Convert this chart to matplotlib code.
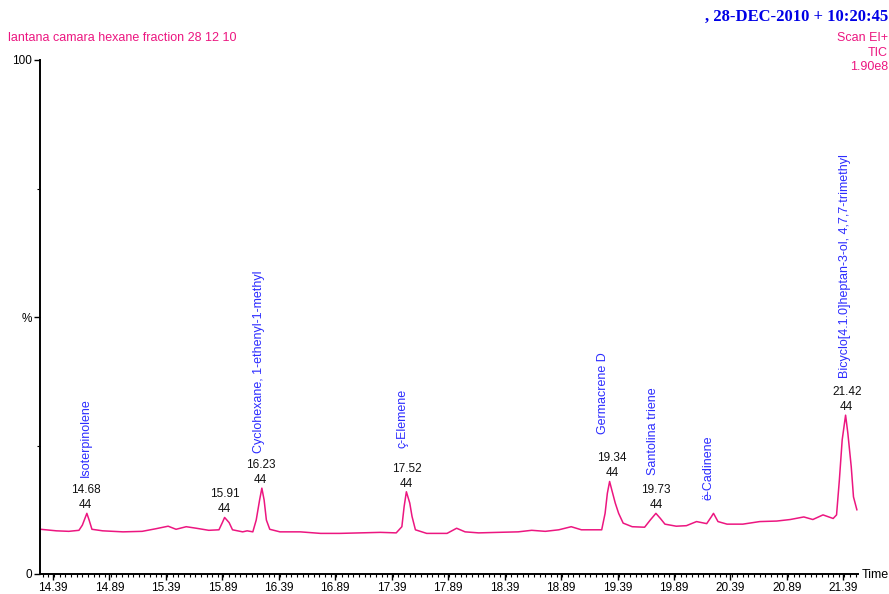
"""
GC-MS total ion chromatogram - lantana camara hexane fraction
"""

import numpy as np
import matplotlib.pyplot as plt
from matplotlib.ticker import FixedLocator, MultipleLocator

# Trace: retention time (min) and relative intensity (%)
times = [14.28, 14.42, 14.53, 14.62, 14.65, 14.69, 14.71, 14.735, 14.83, 15.01,
         15.18, 15.30, 15.41, 15.48, 15.57, 15.66, 15.77, 15.86, 15.89, 15.91,
         15.95, 15.98, 16.07, 16.11, 16.16, 16.19, 16.22, 16.24, 16.26, 16.28,
         16.31, 16.40, 16.58, 16.76, 16.93, 17.11, 17.29, 17.43, 17.48, 17.50,
         17.52, 17.55, 17.57, 17.60, 17.70, 17.88, 17.965, 18.04, 18.16, 18.33,
         18.51, 18.63, 18.75, 18.87, 18.98, 19.07, 19.19, 19.25, 19.28, 19.30,
         19.32, 19.34, 19.37, 19.40, 19.44, 19.52, 19.63, 19.68, 19.73, 19.77,
         19.81, 19.91, 20.00, 20.09, 20.18, 20.22, 20.24, 20.28, 20.36, 20.50,
         20.65, 20.80, 20.92, 21.04, 21.12, 21.21, 21.30, 21.33, 21.355, 21.38,
         21.41, 21.43, 21.46, 21.48, 21.51]
intensity = [8.7, 8.4, 8.3, 8.5, 9.5, 11.8, 10.5, 8.7, 8.4, 8.2,
             8.3, 8.8, 9.3, 8.7, 9.2, 8.9, 8.5, 8.6, 10.0, 11.0,
             10.0, 8.6, 8.2, 8.4, 8.2, 10.5, 14.4, 16.7, 14.4, 10.5,
             8.7, 8.2, 8.2, 7.9, 7.9, 8.0, 8.1, 8.0, 9.2, 13.1,
             16.0, 13.8, 11.2, 8.6, 7.9, 7.9, 8.9, 8.2, 8.0, 8.1,
             8.2, 8.5, 8.3, 8.6, 9.2, 8.6, 8.6, 8.6, 11.8, 15.7,
             18.0, 16.3, 13.8, 11.8, 9.9, 9.2, 9.1, 10.5, 11.8, 10.8,
             9.7, 9.3, 9.4, 10.2, 9.8, 11.1, 11.8, 10.2, 9.7, 9.7,
             10.2, 10.3, 10.6, 11.1, 10.6, 11.5, 10.8, 11.5, 18.3, 26.1,
             30.9, 27.4, 20.9, 15.0, 12.5]

# Peak labels (retention time, mass) and compound names
peak_rt = [14.68, 15.91, 16.23, 17.52, 19.34, 19.73, 21.42]
peak_mass = [44, 44, 44, 44, 44, 44, 44]
compound_rt = [14.68, 16.23, 17.52, 19.34, 19.73, 20.24, 21.42]
compounds = ['Isoterpinolene', 'Cyclohexane, 1-ethenyl-1-methyl', '\u00e7-Elemene',
             'Germacrene D', 'Santolina triene', '\u00eb-Cadinene',
             'Bicyclo[4.1.0]heptan-3-ol, 4,7,7-trimethyl']

# layout of the names (pixels): shift left, height above peak top
NAME_DX = [0, -2, -4, -9, -3, -5, -2]
NAME_DY = [36, 35, 44, 47, 38, 13, 37]

XTICKS = [14.39, 14.89, 15.39, 15.89, 16.39, 16.89, 17.39, 17.89, 18.39,
          18.89, 19.39, 19.89, 20.39, 20.89, 21.39]

TRACE = '#ec1680'
NAME_BLUE = '#2c2cff'
W, H = 889, 594
PT = 0.72  # points per pixel at dpi 100

plt.rcParams['font.family'] = ['Liberation Sans', 'DejaVu Sans']

fig = plt.figure(figsize=(W / 100, H / 100), dpi=100)
ax = fig.add_axes([40 / W, 20 / H, 818 / W, 514 / H])

t = np.array(times)
y = np.array(intensity)
ax.plot(t, y, color=TRACE, lw=1.1)

ax.set_xlim(14.275, 21.52)
ax.set_ylim(0, 100)

for s in ['top', 'right']:
    ax.spines[s].set_visible(False)
for s in ['left', 'bottom']:
    ax.spines[s].set_linewidth(1.4)

ax.xaxis.set_major_locator(FixedLocator(XTICKS))
ax.xaxis.set_minor_locator(MultipleLocator(0.05))
ax.set_xticklabels([f'{v:.2f}' for v in XTICKS])
ax.set_yticks([0, 50, 100])
ax.set_yticklabels(['0', '%', '100'])
ax.yaxis.set_minor_locator(FixedLocator([25, 75]))
ax.tick_params(axis='both', which='major', length=4, width=1, labelsize=8.5, pad=2)
ax.tick_params(axis='both', which='minor', length=2.5, width=0.8)


def peak_top(rt):
    m = np.abs(t - rt) < 0.04
    return y[m].max()


# peak numbers
for rt, mass in zip(peak_rt, peak_mass):
    ax.annotate(f'{rt:.2f}\n{mass}', xy=(rt, peak_top(rt)), xytext=(0, 2 * PT),
                textcoords='offset points', ha='center', va='bottom',
                fontsize=8.5, linespacing=1.35, color='#111111')

# compound names
for rt, name, dx, dy in zip(compound_rt, compounds, NAME_DX, NAME_DY):
    ax.annotate(name, xy=(rt, peak_top(rt)), xytext=(dx * PT, dy * PT),
                textcoords='offset points', ha='center', va='bottom',
                rotation=90, fontsize=9, color=NAME_BLUE)

# header texts
fig.text(8 / W, 1 - 38 / H, 'lantana camara hexane fraction 28 12 10',
         color=TRACE, fontsize=9, va='center', ha='left')
fig.text(888 / W, 1 - 17 / H, ', 28-DEC-2010 + 10:20:45', color='#0000e6',
         fontsize=12, fontweight='bold', family='Liberation Serif',
         va='center', ha='right')
for txt, yy in [('Scan EI+', 38), ('TIC', 53), ('1.90e8', 67)]:
    fig.text(888 / W, 1 - yy / H, txt, color=TRACE, fontsize=9,
             va='center', ha='right')
fig.text(862 / W, 1 - 575 / H, 'Time', fontsize=9, va='center', ha='left')

fig.savefig('out.png', dpi=100, facecolor='white')
